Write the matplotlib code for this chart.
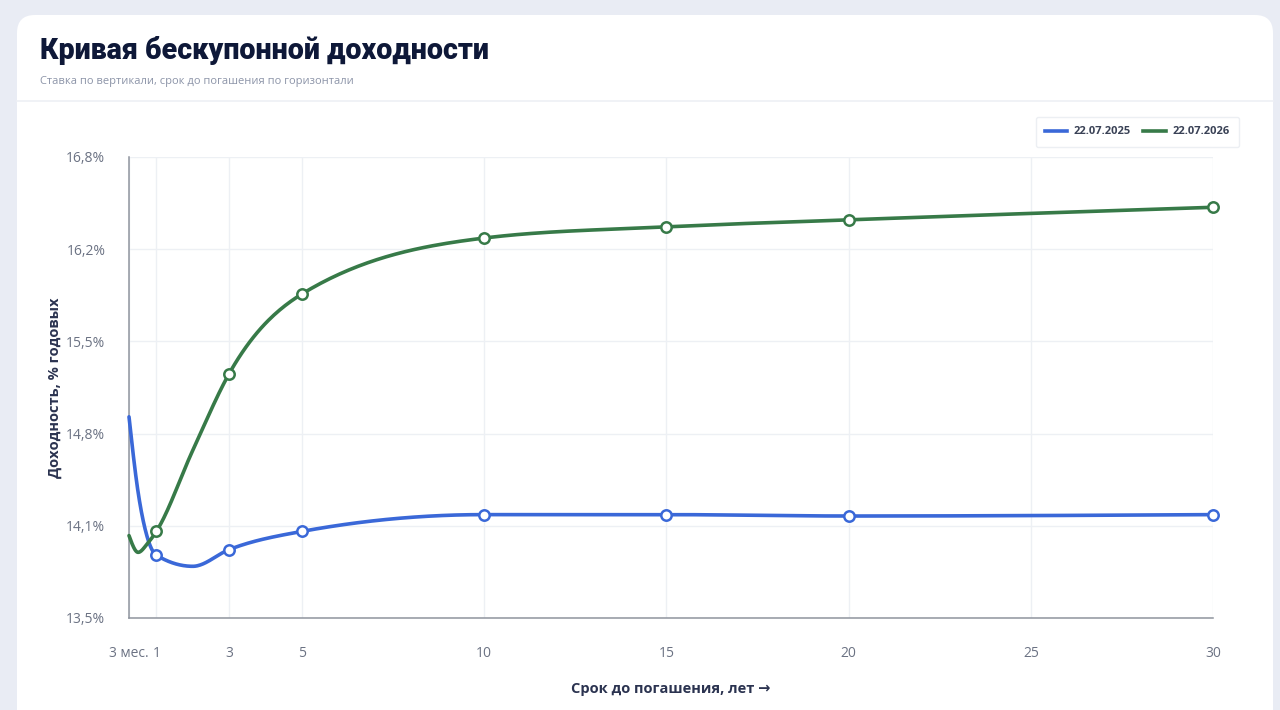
import numpy as np
import matplotlib
matplotlib.use('Agg')
import matplotlib.pyplot as plt
from matplotlib.patches import FancyBboxPatch
from matplotlib.lines import Line2D
from matplotlib.transforms import IdentityTransform

# --- data (years to maturity, yield % p.a.) ---
tenors_2025 = [0.25, 0.5, 0.75, 1, 2, 3, 5, 10, 15, 20, 30]
yields_2025 = [14.94, 14.40, 14.08, 13.95, 13.87, 13.99, 14.12, 14.24, 14.24, 14.23, 14.24]
tenors_2026 = [0.25, 0.5, 0.75, 1, 2, 3, 5, 10, 15, 20, 30]
yields_2026 = [14.09, 13.97, 14.03, 14.12, 14.70, 15.25, 15.82, 16.22, 16.30, 16.35, 16.44]
marked_tenors = [1, 3, 5, 10, 15, 20, 30]

series_labels = ['22.07.2025', '22.07.2026']
series_colors = ['#3a68d8', '#377a48']

x_ticks = [0.25, 1, 3, 5, 10, 15, 20, 25, 30]
x_tick_labels = ['3 мес.', '1', '3', '5', '10', '15', '20', '25', '30']
y_tick_labels = ['13,5%', '14,1%', '14,8%', '15,5%', '16,2%', '16,8%']

title = 'Кривая бескупонной доходности'
subtitle = 'Ставка по вертикали, срок до погашения по горизонтали'
x_title = 'Срок до погашения, лет →'
y_title = 'Доходность, % годовых'

W, H = 1280, 710
fig = plt.figure(figsize=(W / 100, H / 100), dpi=100)
fig.patch.set_facecolor('#e9ecf4')

px = IdentityTransform()
card = FancyBboxPatch((17, -40), 1256, H - 15 + 40,
                      boxstyle='round,pad=0,rounding_size=18',
                      transform=px, facecolor='white', edgecolor='none', zorder=0)
fig.add_artist(card)
fig.add_artist(Line2D([17, 1273], [H - 101, H - 101], transform=px,
                      color='#eef0f5', linewidth=1.2))

fig.text(40 / W, 1 - 59 / H, title, fontsize=20.6, fontweight='black',
         family=['Roboto', 'DejaVu Sans'], color='#0e1838', va='baseline')
fig.text(40 / W, 1 - 84 / H, subtitle, fontsize=8, family=['Open Sans', 'DejaVu Sans'],
         color='#8c94a8', va='baseline')

ax = fig.add_axes([129 / W, 1 - 618 / H, (1213 - 129) / W, (618 - 157) / H])
ax.set_facecolor('none')
ax.set_xlim(0.25, 30)
ax.set_ylim(13.5, 16.8)

ax.set_xticks(x_ticks)
ax.set_xticklabels(x_tick_labels)
y_ticks = np.linspace(13.5, 16.8, len(y_tick_labels))
ax.set_yticks(y_ticks)
ax.set_yticklabels(y_tick_labels)
for lab in ax.get_xticklabels() + ax.get_yticklabels():
    lab.set_family(['Open Sans', 'DejaVu Sans'])
ax.tick_params(axis='both', length=0, labelsize=10, labelcolor='#6b7283')
ax.tick_params(axis='x', pad=20)
ax.tick_params(axis='y', pad=17)

ax.grid(True, color='#edf0f4', linewidth=1)
ax.set_axisbelow(True)
for side in ('top', 'right'):
    ax.spines[side].set_visible(False)
for side in ('left', 'bottom'):
    ax.spines[side].set_color('#8f949e')
    ax.spines[side].set_linewidth(1.1)


def monotone_curve(xs, ys, steps=40):
    # monotone cubic interpolation (same idea as d3.curveMonotoneX)
    x = np.asarray(xs, float)
    y = np.asarray(ys, float)
    n = len(x)
    h = np.diff(x)
    s = np.diff(y) / h
    m = np.zeros(n)
    for i in range(1, n - 1):
        p = (s[i - 1] * h[i] + s[i] * h[i - 1]) / (h[i - 1] + h[i])
        m[i] = (np.sign(s[i - 1]) + np.sign(s[i])) * min(abs(s[i - 1]), abs(s[i]), 0.5 * abs(p))
    m[0] = (3 * s[0] - m[1]) / 2
    m[-1] = (3 * s[-1] - m[-2]) / 2
    t = np.linspace(0, 1, steps)
    cx, cy = [x[:1]], [y[:1]]
    for i in range(n - 1):
        dx = h[i]
        p0 = np.array([x[i], y[i]])
        p1 = np.array([x[i] + dx / 3, y[i] + dx * m[i] / 3])
        p2 = np.array([x[i + 1] - dx / 3, y[i + 1] - dx * m[i + 1] / 3])
        p3 = np.array([x[i + 1], y[i + 1]])
        tt = t[1:, None]
        seg = (1 - tt) ** 3 * p0 + 3 * (1 - tt) ** 2 * tt * p1 + 3 * (1 - tt) * tt ** 2 * p2 + tt ** 3 * p3
        cx.append(seg[:, 0])
        cy.append(seg[:, 1])
    return np.concatenate(cx), np.concatenate(cy)


for xs, ys, color in [(tenors_2025, yields_2025, series_colors[0]),
                      (tenors_2026, yields_2026, series_colors[1])]:
    cx, cy = monotone_curve(xs, ys)
    ax.plot(cx, cy, color=color, linewidth=2.6, solid_capstyle='round', clip_on=False, zorder=3)
    mx = [x for x in xs if x in marked_tenors]
    my = [y for x, y in zip(xs, ys) if x in marked_tenors]
    ax.plot(mx, my, linestyle='none', marker='o', markersize=7.5, markerfacecolor='white',
            markeredgecolor=color, markeredgewidth=1.8, clip_on=False, zorder=4)

fig.text(55 / W, 1 - 388 / H, y_title, rotation=90, ha='center', va='center',
         fontsize=10.5, fontweight='bold', family=['Open Sans', 'DejaVu Sans'], color='#2b3350')
fig.text(671 / W, 1 - 689 / H, x_title, ha='center', va='center',
         fontsize=10.5, fontweight='bold', family=['Open Sans', 'DejaVu Sans'], color='#2b3350')

handles = [Line2D([], [], color=c, linewidth=2.6) for c in series_colors]
leg = fig.legend(handles, series_labels, loc='upper right',
                 bbox_to_anchor=(1239 / W, 1 - 117 / H), borderaxespad=0, ncol=2, frameon=True,
                 fancybox=True, handlelength=2.0, columnspacing=1.1, handletextpad=0.6,
                 borderpad=0.85, prop={'family': ['Open Sans', 'DejaVu Sans'], 'size': 8, 'weight': 'bold'},
                 labelcolor='#3a4256')
leg.get_frame().set_edgecolor('#e8ebf0')
leg.get_frame().set_linewidth(1)

fig.savefig('out.png', dpi=100, facecolor=fig.get_facecolor())
